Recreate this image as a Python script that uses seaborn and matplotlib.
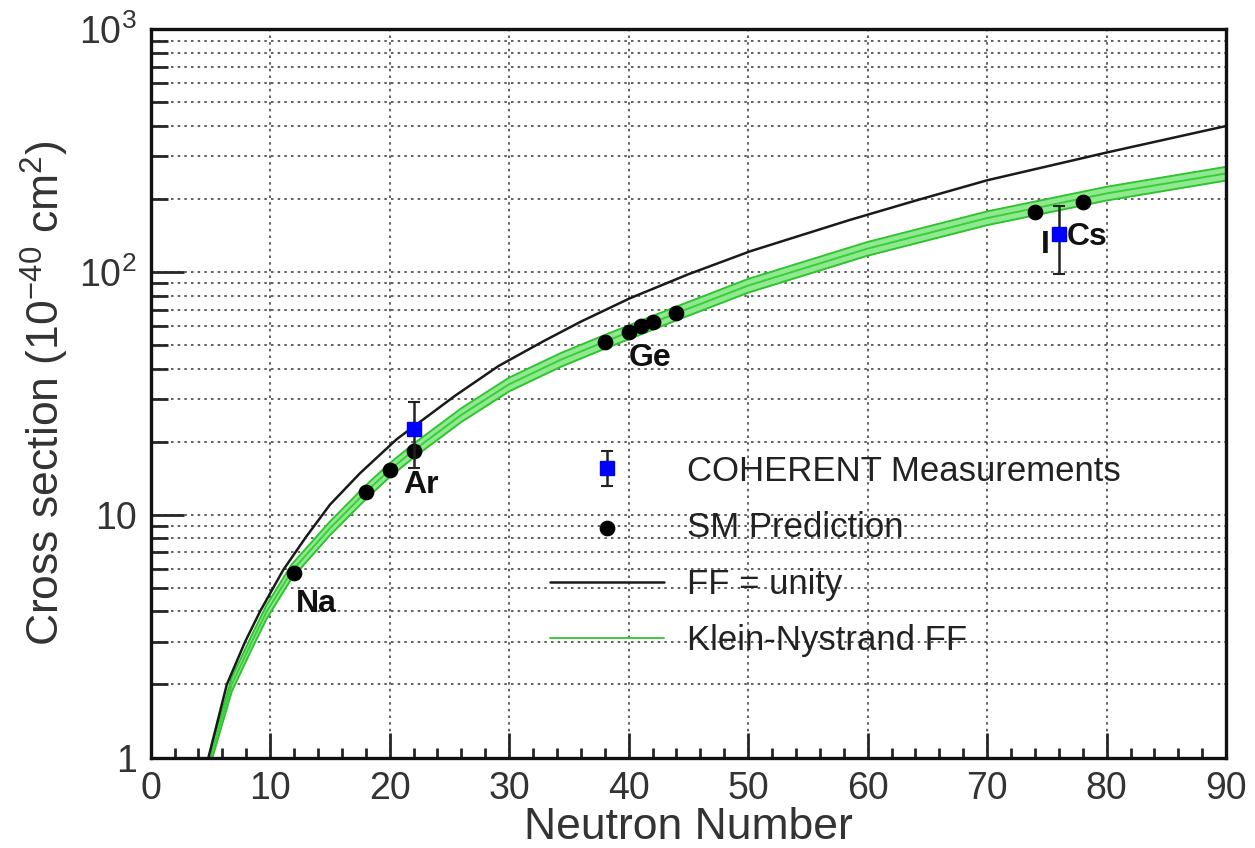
import numpy as np
import pandas as pd
import seaborn as sns
import matplotlib.pyplot as plt
from matplotlib.ticker import NullFormatter

# Cross section curves (neutron number, 1e-40 cm^2)
unity_n = [4.84, 6.38, 7.91, 9.16, 11.1, 13, 15, 17.5, 20.6, 25.5, 29.1, 32.9, 36,
           40.1, 45, 50.2, 58.5, 64, 70, 80, 90]
unity_xs = [1.0, 2.0, 3.0, 4.0, 5.93, 8.1, 11.0, 14.8, 20.5, 31, 41, 52, 62.5,
            78, 98, 122, 164, 197, 239, 311, 400]

kn_n = [5.0, 6.79, 8.47, 9.72, 11.8, 15, 18, 20, 22, 26, 30, 34.3, 38, 44, 50,
        60, 70, 80, 90]
kn_xs = [1.0, 2.0, 3.0, 4.0, 5.85, 8.8, 12.4, 15.3, 18.4, 25.8, 34.5, 43.5, 51.7, 67.7, 88,
         125, 167, 211, 255]
kn_band = 0.065  # relative half width of the KN band

# SM predictions (black dots)
sm_n = [12, 18, 20, 22, 38, 40, 41, 42, 44, 74, 78]
sm_xs = [5.75, 12.4, 15.3, 18.4, 51.7, 56.9, 60.0, 62.5, 67.7, 177, 195]

# COHERENT measurements
meas_n = [22, 76]
meas_xs = [22.6, 143]
meas_lo = [15.6, 98]
meas_hi = [29.2, 187]

# nucleus labels
nuclei = ['Na', 'Ar', 'Ge', 'I', 'Cs']
nuc_n = [13.9, 22.6, 41.8, 74.9, 78.4]
nuc_xs = [4.3, 13.3, 44.3, 129, 140]

sns.set_style('ticks')
plt.rcParams['font.family'] = ['Liberation Sans', 'DejaVu Sans']
plt.rcParams['mathtext.fontset'] = 'custom'
plt.rcParams['mathtext.rm'] = 'Liberation Sans'
plt.rcParams['mathtext.it'] = 'Liberation Sans:italic'
plt.rcParams['text.color'] = '#222222'

fig = plt.figure(figsize=(12.55, 8.48), dpi=100)
ax = fig.add_axes([0.12, 0.1067, 0.857, 0.8586])

unity = pd.DataFrame({'N': unity_n, 'xs': unity_xs})
kn = pd.DataFrame({'N': kn_n, 'xs': kn_xs})
kn['lo'] = kn['xs'] * (1 - kn_band)
kn['hi'] = kn['xs'] * (1 + kn_band)

ax.fill_between(kn['N'], kn['lo'], kn['hi'], color='#8fea8f', lw=0, zorder=2)
ax.plot(kn['N'], kn['lo'], color='#2fc42f', lw=1.4, zorder=2)
ax.plot(kn['N'], kn['hi'], color='#2fc42f', lw=1.4, zorder=2)
sns.lineplot(data=kn, x='N', y='xs', ax=ax, color='#3ccc3c', lw=1.4,
             label='Klein-Nystrand FF', zorder=3)
sns.lineplot(data=unity, x='N', y='xs', ax=ax, color='#1a1a1a', lw=1.8,
             label='FF = unity', zorder=3)

sns.scatterplot(x=sm_n, y=sm_xs, ax=ax, color='black', s=110, edgecolor='black',
                label='SM Prediction', zorder=5)

yerr = [np.array(meas_xs) - np.array(meas_lo), np.array(meas_hi) - np.array(meas_xs)]
eb = ax.errorbar(meas_n, meas_xs, yerr=yerr, fmt='s', color='#0000ff', ms=10,
                 ecolor='#222222', elinewidth=1.8, capsize=4, capthick=1.5,
                 zorder=6, label='COHERENT Measurements')

for name, n, v in zip(nuclei, nuc_n, nuc_xs):
    ax.text(n, v, name, fontsize=23, fontweight='bold', color='#111111',
            ha='center', va='center', zorder=7)

ax.set_yscale('log')
ax.set_xlim(0, 90)
ax.set_ylim(1, 1000)
ax.set_xticks(range(0, 91, 10))
ax.set_xticks(range(0, 91, 2), minor=True)
ax.set_yticks([1, 10, 100, 1000])
ax.set_yticklabels(['1', '10', '$10^2$', '$10^3$'])
ax.set_yticks([k * 10 ** d for d in range(3) for k in range(2, 10)], minor=True)
ax.yaxis.set_minor_formatter(NullFormatter())

ax.tick_params(axis='both', which='major', direction='in', width=2, labelsize=27,
               labelcolor='#333333', top=False, right=False)
ax.tick_params(axis='x', which='major', length=18, pad=10)
ax.tick_params(axis='y', which='major', length=24, pad=10)
ax.tick_params(axis='x', which='minor', direction='in', length=7, width=2, top=False)
ax.tick_params(axis='y', which='minor', direction='in', length=12, width=2, right=False)

grid_kw = dict(color='#444444', lw=1.2, linestyle=(0, (1.5, 2.5)))
ax.grid(axis='x', which='major', **grid_kw)
ax.grid(axis='y', which='both', **grid_kw)

for sp in ax.spines.values():
    sp.set_linewidth(2.4)
    sp.set_color('#111111')
    sp.set_zorder(8)

ax.set_xlabel('Neutron Number', fontsize=32, color='#333333', labelpad=0)
ax.set_ylabel('Cross section ($10^{-40}$ cm$^2$)', fontsize=32, color='#333333',
              labelpad=6)

h, l = ax.get_legend_handles_labels()
order = [l.index('COHERENT Measurements'), l.index('SM Prediction'),
         l.index('FF = unity'), l.index('Klein-Nystrand FF')]
ax.legend([h[i] for i in order], [l[i] for i in order], loc='upper left',
          bbox_to_anchor=(0.342, 0.459), frameon=False, fontsize=25,
          handlelength=3.3, handletextpad=0.66, labelspacing=0.68)

fig.savefig('out.png', dpi=100)
